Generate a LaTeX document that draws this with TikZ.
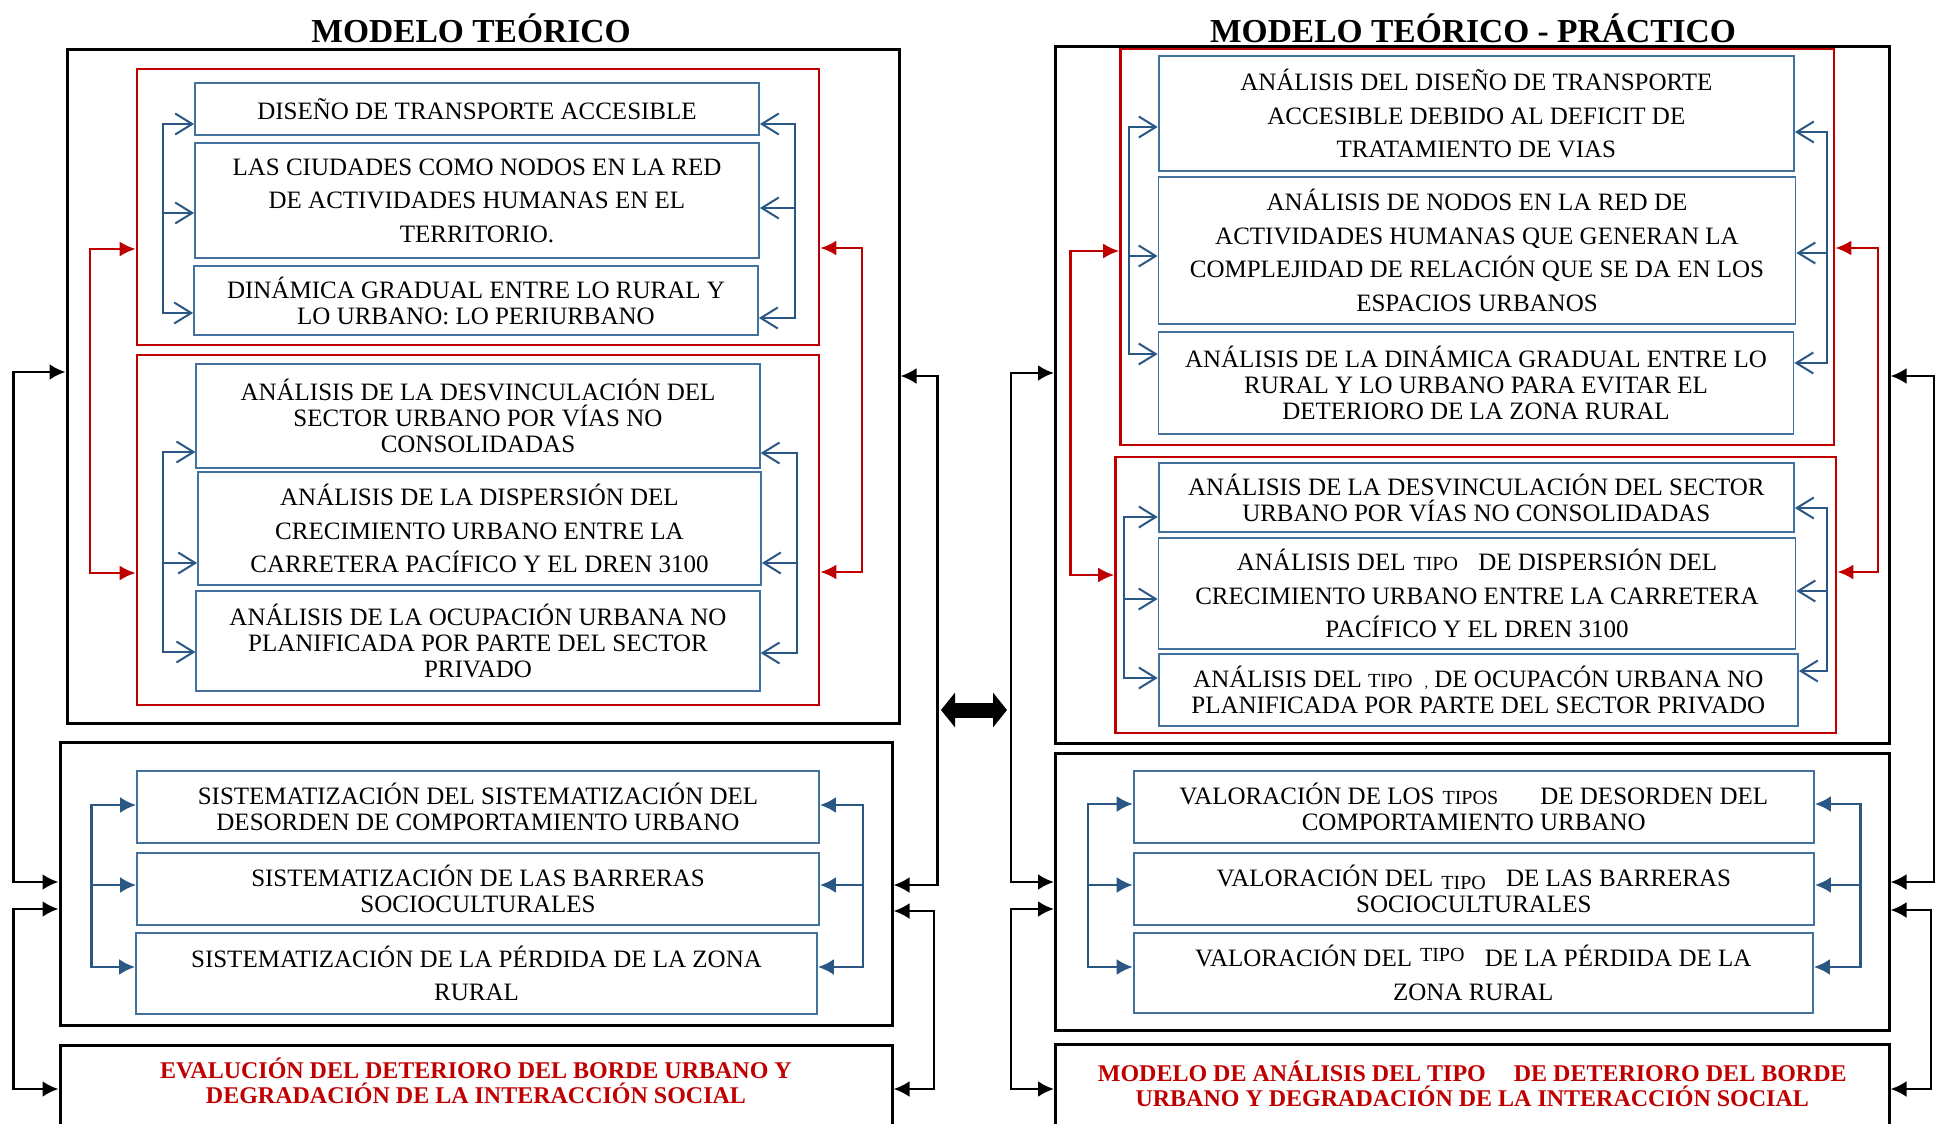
\documentclass[tikz,border=0pt]{standalone}
\usepackage{fontspec}
\setmainfont{Liberation Serif}
\usepackage{tikz}
\usetikzlibrary{arrows.meta}
\definecolor{azul}{RGB}{65,113,156}
\definecolor{azulosc}{RGB}{42,87,132}
\definecolor{rojo}{RGB}{192,0,0}
\newcommand{\tipo}[1]{{\fontsize{20}{20}\selectfont #1}}
\tikzstyle{titulo}=[font=\fontsize{33.5}{36}\selectfont\bfseries]
\tikzstyle{caja}=[draw=azul, line width=1.8pt, inner sep=0pt, align=center, font=\fontsize{25}{26}\selectfont]
\tikzstyle{ancha}=[font=\fontsize{25}{33.5}\selectfont]
\tikzstyle{marco}=[draw=black, line width=3pt, inner sep=0pt]
\tikzstyle{grupo}=[draw=rojo, line width=2.6pt, inner sep=0pt]
\tikzstyle{final}=[marco, align=center, text=rojo, font=\fontsize{24}{25}\selectfont\bfseries]
\tikzstyle{flechaN}=[draw=black, line width=2.8pt, {Latex[length=16pt,width=16pt]}-{Latex[length=16pt,width=16pt]}]
\tikzstyle{flechaR}=[draw=rojo, line width=2.6pt, {Latex[length=16pt,width=15pt]}-{Latex[length=16pt,width=15pt]}]
\tikzstyle{hiloA}=[draw=azulosc, line width=2pt, {Straight Barb[length=17pt,width=21pt]}-{Straight Barb[length=17pt,width=21pt]}]
\tikzstyle{puntaA}=[draw=azulosc, line width=2pt, -{Straight Barb[length=17pt,width=21pt]}]
\tikzstyle{hiloB}=[draw=azulosc, line width=2.6pt, {Latex[length=16pt,width=16pt]}-{Latex[length=16pt,width=16pt]}]
\tikzstyle{puntaB}=[draw=azulosc, line width=2.6pt, -{Latex[length=16pt,width=16pt]}]
\tikzstyle{dobl}=[draw=black, line width=15pt, {Triangle[length=14pt,width=34pt]}-{Triangle[length=14pt,width=34pt]}]

\begin{document}
\begin{tikzpicture}[x=1pt, y=-1pt]
	\useasboundingbox (0,0) rectangle (1939,1124);
	\draw (471,28) node[titulo] (tit1) {MODELO TEÓRICO};
	\draw (1473,28) node[titulo] (tit2) {MODELO TEÓRICO - PRÁCTICO};

	% modelo teorico
	\draw (483,386.5) node[marco, minimum width=832pt, minimum height=673pt] (m1) {};
	\draw (476,883.5) node[marco, minimum width=832pt, minimum height=283pt] (m2) {};
	\draw (476,1087.5) node[final, minimum width=832pt, minimum height=85pt] (m3) {EVALUCIÓN DEL DETERIORO DEL BORDE URBANO Y\\DEGRADACIÓN DE LA INTERACCIÓN SOCIAL\\[-12pt]\mbox{}};
	\draw (478,207) node[grupo, minimum width=682pt, minimum height=276pt] (g1) {};
	\draw (478,530) node[grupo, minimum width=682pt, minimum height=350pt] (g2) {};
	\draw (477,109) node[caja, minimum width=564pt, minimum height=52pt] (a1) {DISEÑO DE TRANSPORTE ACCESIBLE};
	\draw (477,200.5) node[caja, ancha, minimum width=564pt, minimum height=115pt] (a2) {LAS CIUDADES COMO NODOS EN LA RED\\DE ACTIVIDADES HUMANAS EN EL\\TERRITORIO.};
	\draw (476,300.5) node[caja, minimum width=564pt, minimum height=69pt] (a3) {DINÁMICA GRADUAL ENTRE LO RURAL Y\\LO URBANO: LO PERIURBANO};
	\draw (478,416) node[caja, minimum width=563.5pt, minimum height=104pt] (a4) {ANÁLISIS DE LA DESVINCULACIÓN DEL\\SECTOR URBANO POR VÍAS NO\\CONSOLIDADAS};
	\draw (479.5,528.5) node[caja, ancha, minimum width=563pt, minimum height=113pt] (a5) {ANÁLISIS DE LA DISPERSIÓN DEL\\CRECIMIENTO URBANO ENTRE LA\\CARRETERA PACÍFICO Y EL DREN 3100};
	\draw (478,641) node[caja, minimum width=563.5pt, minimum height=100pt] (a6) {ANÁLISIS DE LA OCUPACIÓN URBANA NO\\PLANIFICADA POR PARTE DEL SECTOR\\PRIVADO};
	\draw (478,807) node[caja, minimum width=682pt, minimum height=72pt] (a7) {SISTEMATIZACIÓN DEL SISTEMATIZACIÓN DEL\\DESORDEN DE COMPORTAMIENTO URBANO};
	\draw (478,889) node[caja, minimum width=682pt, minimum height=72pt] (a8) {SISTEMATIZACIÓN DE LAS BARRERAS\\SOCIOCULTURALES};
	\draw (476.5,973.5) node[caja, ancha, minimum width=681pt, minimum height=81pt] (a9) {SISTEMATIZACIÓN DE LA PÉRDIDA DE LA ZONA\\RURAL};

	\draw[flechaR] (g1.west |- 0,249) -| (90,573) -- (g2.west |- 0,573);
	\draw[flechaR] (g1.east |- 0,248) -| (862,572) -- (g2.east |- 0,572);
	\draw[flechaN] (m1.west |- 0,372) -| (13.6,882) -- (m2.west |- 0,882);
	\draw[flechaN] (m2.west |- 0,909) -| (13.6,1089) -- (m3.west |- 0,1089);
	\draw[flechaN] (m1.east |- 0,376) -| (937.5,885) -- (m2.east |- 0,885);
	\draw[flechaN] (m2.east |- 0,911) -| (934,1089) -- (m3.east |- 0,1089);

	\draw[hiloA] (a1.west |- 0,124) -| (162.5,313) -- (a3.west |- 0,313);
	\draw[puntaA] (162.5,213) -- (a2.west |- 0,213);
	\draw[hiloA] (a1.east |- 0,124) -| (795,318) -- (a3.east |- 0,318);
	\draw[puntaA] (795,208) -- (a2.east |- 0,208);
	\draw[hiloA] (a4.west |- 0,452) -| (162.5,652) -- (a6.west |- 0,652);
	\draw[puntaA] (162.5,563) -- (a5.west |- 0,563);
	\draw[hiloA] (a4.east |- 0,453) -| (797,653) -- (a6.east |- 0,653);
	\draw[puntaA] (797,563) -- (a5.east |- 0,563);
	\draw[hiloB] (a7.west |- 0,805) -| (91.5,967) -- (a9.west |- 0,967);
	\draw[puntaB] (91.5,885) -- (a8.west |- 0,885);
	\draw[hiloB] (a7.east |- 0,805) -| (863,967) -- (a9.east |- 0,967);
	\draw[puntaB] (863,885) -- (a8.east |- 0,885);

	% entre modelos
	\coordinate (dl) at (941,710);
	\coordinate (dr) at (1007,710);
	\draw[dobl] (dl) -- (dr);

	% modelo teorico - practico
	\draw (1472.25,395) node[marco, minimum width=833.5pt, minimum height=696pt] (p1) {};
	\draw (1472.25,891.5) node[marco, minimum width=833.5pt, minimum height=277pt] (p2) {};
	\draw (1472.25,1086.5) node[final, minimum width=833.5pt, minimum height=85pt] (p3) {MODELO DE ANÁLISIS DEL TIPO\hspace{22pt} DE DETERIORO DEL BORDE\\URBANO Y DEGRADACIÓN DE LA INTERACCIÓN SOCIAL\\[-19pt]\mbox{}};
	\draw (1477.25,247) node[grupo, minimum width=713.5pt, minimum height=396pt] (h1) {};
	\draw (1475.75,595) node[grupo, minimum width=720.5pt, minimum height=276pt] (h2) {};
	\draw (1476.3,113.5) node[caja, ancha, minimum width=635.4pt, minimum height=115pt] (b1) {ANÁLISIS DEL DISEÑO DE TRANSPORTE\\ACCESIBLE DEBIDO AL DEFICIT DE\\TRATAMIENTO DE VIAS};
	\draw (1477,250.5) node[caja, ancha, minimum width=637pt, minimum height=147pt] (b2) {ANÁLISIS DE NODOS EN LA RED DE\\ACTIVIDADES HUMANAS QUE GENERAN LA\\COMPLEJIDAD DE RELACIÓN QUE SE DA EN LOS\\ESPACIOS URBANOS};
	\draw (1476,383) node[caja, minimum width=635pt, minimum height=102pt] (b3) {ANÁLISIS DE LA DINÁMICA GRADUAL ENTRE LO\\RURAL Y LO URBANO PARA EVITAR EL\\DETERIORO DE LA ZONA RURAL};
	\draw (1476.3,497.5) node[caja, minimum width=635.4pt, minimum height=69pt] (b4) {ANÁLISIS DE LA DESVINCULACIÓN DEL SECTOR\\URBANO POR VÍAS NO CONSOLIDADAS};
	\draw (1477,593.5) node[caja, ancha, minimum width=637pt, minimum height=111pt] (b5) {ANÁLISIS DEL\hspace{8pt}\tipo{TIPO}\hspace{14pt} DE DISPERSIÓN DEL\\CRECIMIENTO URBANO ENTRE LA CARRETERA\\PACÍFICO Y EL DREN 3100};
	\draw (1478.3,690) node[caja, minimum width=639.4pt, minimum height=72pt] (b6) {ANÁLISIS DEL \tipo{TIPO}\hspace{12pt}{\fontsize{14}{14}\selectfont ,} DE OCUPACÓN URBANA NO\\PLANIFICADA POR PARTE DEL SECTOR PRIVADO};
	\draw (1473.8,807) node[caja, minimum width=680.4pt, minimum height=72pt] (b7) {VALORACIÓN DE LOS\hspace{8pt}\tipo{TIPOS}\hspace{36pt} DE DESORDEN DEL\\COMPORTAMIENTO URBANO};
	\draw (1473.8,889) node[caja, minimum width=680.4pt, minimum height=72pt] (b8) {VALORACIÓN DEL\hspace{8pt}\raisebox{-3pt}{\tipo{TIPO}}\hspace{14pt} DE LAS BARRERAS\\SOCIOCULTURALES};
	\draw (1473.3,973) node[caja, ancha, minimum width=679.4pt, minimum height=80pt] (b9) {VALORACIÓN DEL\hspace{8pt}\raisebox{5pt}{\tipo{TIPO}}\hspace{14pt} DE LA PÉRDIDA DE LA\\ZONA RURAL};

	\draw[flechaR] (h1.west |- 0,251) -| (1070.5,575) -- (h2.west |- 0,575);
	\draw[flechaR] (h1.east |- 0,248) -| (1878,572) -- (h2.east |- 0,572);
	\draw[flechaN] (p1.west |- 0,373) -| (1011,882) -- (p2.west |- 0,882);
	\draw[flechaN] (p2.west |- 0,909) -| (1011,1089) -- (p3.west |- 0,1089);
	\draw[flechaN] (p1.east |- 0,376) -| (1934,882) -- (p2.east |- 0,882);
	\draw[flechaN] (p2.east |- 0,910) -| (1931,1089) -- (p3.east |- 0,1089);

	\draw[hiloA] (b1.west |- 0,127) -| (1128.6,354) -- (b3.west |- 0,354);
	\draw[puntaA] (1128.6,256) -- (b2.west |- 0,256);
	\draw[hiloA] (b1.east |- 0,132) -| (1826.8,363) -- (b3.east |- 0,363);
	\draw[puntaA] (1826.8,253) -- (b2.east |- 0,253);
	\draw[hiloA] (b4.west |- 0,517) -| (1124,678) -- (b6.west |- 0,678);
	\draw[puntaA] (1124,599) -- (b5.west |- 0,599);
	\draw[hiloA] (b4.east |- 0,508) -| (1826.8,671) -- (b6.east |- 0,671);
	\draw[puntaA] (1826.8,591) -- (b5.east |- 0,591);
	\draw[hiloB] (b7.west |- 0,804) -| (1088,967) -- (b9.west |- 0,967);
	\draw[puntaB] (1088,885) -- (b8.west |- 0,885);
	\draw[hiloB] (b7.east |- 0,804) -| (1860.5,967) -- (b9.east |- 0,967);
	\draw[puntaB] (1860.5,885) -- (b8.east |- 0,885);
\end{tikzpicture}
\end{document}
